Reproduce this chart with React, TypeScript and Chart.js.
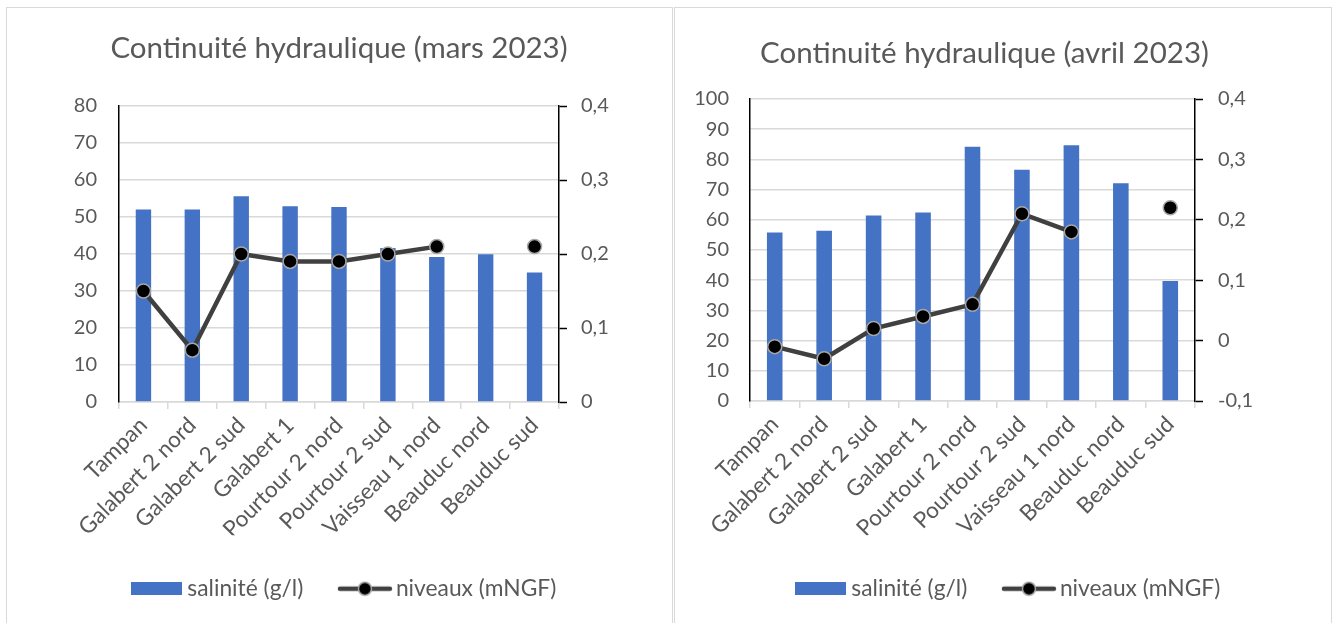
import React, { useEffect, useRef } from "react";
import { Chart, registerables } from "chart.js";

Chart.register(...registerables);

// ---------- data ----------
const categories = [
  "Tampan",
  "Galabert 2 nord",
  "Galabert 2 sud",
  "Galabert 1",
  "Pourtour 2 nord",
  "Pourtour 2 sud",
  "Vaisseau 1 nord",
  "Beauduc nord",
  "Beauduc sud",
];
const seriesNames = ["salinité (g/l)", "niveaux (mNGF)"];

const titleMars = "Continuité hydraulique (mars 2023)";
const salinityMars = [52, 52, 55.6, 52.9, 52.7, 41.6, 39.2, 39.9, 35];
const levelsMars: (number | null)[] = [0.15, 0.07, 0.2, 0.19, 0.19, 0.2, 0.21, null, 0.21];
const yRangeMars = [0, 80, 10];
const y2RangeMars = [0, 0.4, 0.1];

const titleAvril = "Continuité hydraulique (avril 2023)";
const salinityAvril = [55.8, 56.4, 61.4, 62.4, 84.2, 76.6, 84.7, 72.1, 39.7];
const levelsAvril: (number | null)[] = [-0.01, -0.03, 0.02, 0.04, 0.06, 0.21, 0.18, null, 0.22];
const yRangeAvril = [0, 100, 10];
const y2RangeAvril = [-0.1, 0.4, 0.1];

// ---------- styles ----------
const FONT = "Lato";
const TEXT = "#595959";
const GRID = "#d9d9d9";
const BLUE = "#4472C4";
const LINE = "#404040";
const TICK_SIZE = 20;
const CAT_SIZE = 22.5;
const LEGEND_SIZE = 22.8;
const TITLE_SIZE = 29.5;

const shiftPlugin = {
  id: "shiftBoxes",
  afterLayout(chart: any, _args: any, opts: any) {
    const t = opts && opts.title ? opts.title : 0;
    const l = opts && opts.legend ? opts.legend : 0;
    if (chart.titleBlock) {
      chart.titleBlock.left += t;
      chart.titleBlock.right += t;
    }
    if (chart.legend) {
      chart.legend.left += l;
      chart.legend.right += l;
    }
  },
};

function makeBarImg() {
  const c = document.createElement("canvas");
  c.width = 51;
  c.height = 13;
  const g = c.getContext("2d")!;
  g.fillStyle = BLUE;
  g.fillRect(0, 0, 51, 13);
  return c;
}

function makeLineImg() {
  const c = document.createElement("canvas");
  c.width = 56;
  c.height = 16;
  const g = c.getContext("2d")!;
  g.strokeStyle = LINE;
  g.lineWidth = 4.5;
  g.lineCap = "round";
  g.beginPath();
  g.moveTo(3, 8);
  g.lineTo(53, 8);
  g.stroke();
  g.beginPath();
  g.arc(28, 8, 6.5, 0, Math.PI * 2);
  g.fillStyle = "#000";
  g.fill();
  g.lineWidth = 1.5;
  g.strokeStyle = "#a6a6a6";
  g.stroke();
  return c;
}

type Spec = {
  title: string;
  salinity: number[];
  levels: (number | null)[];
  yRange: number[];
  y2Range: number[];
  yWidth: number;
  y2Width: number;
  yPad: number;
  y2Pad: number;
  titlePad: { top: number; bottom: number };
  xHeight: number;
  shiftTitle: number;
  shiftLegend: number;
};

function makeConfig(s: Spec, barImg: HTMLCanvasElement, lineImg: HTMLCanvasElement): any {
  const fmt = (v: any) => String(Math.round(Number(v) * 10) / 10).replace(".", ",");
  return {
    type: "bar",
    data: {
      labels: categories,
      datasets: [
        {
          type: "line",
          label: seriesNames[1],
          data: s.levels,
          yAxisID: "y2",
          borderColor: LINE,
          borderWidth: 4.5,
          pointRadius: 7,
          pointHoverRadius: 7,
          pointBackgroundColor: "#000",
          pointBorderColor: "#a6a6a6",
          pointBorderWidth: 1.5,
          spanGaps: false,
          tension: 0,
          order: 0,
        },
        {
          type: "bar",
          label: seriesNames[0],
          data: s.salinity,
          yAxisID: "y",
          backgroundColor: BLUE,
          barPercentage: 0.315,
          categoryPercentage: 1,
          order: 1,
        },
      ],
    },
    options: {
      responsive: false,
      animation: false,
      events: [],
      layout: { padding: { left: 0, right: 0, top: 0, bottom: 12.9 } },
      font: { family: FONT },
      scales: {
        x: {
          grid: {
            offset: true,
            drawOnChartArea: false,
            drawTicks: true,
            tickLength: 7,
            color: GRID,
            tickColor: GRID,
            lineWidth: 1.5,
          },
          border: { color: GRID, width: 1.5 },
          ticks: {
            autoSkip: false,
            minRotation: 45,
            maxRotation: 45,
            padding: 3,
            color: TEXT,
            font: { family: FONT, size: CAT_SIZE },
          },
          afterFit: (sc: any) => {
            sc.height = s.xHeight;
          },
        },
        y: {
          position: "left",
          min: s.yRange[0],
          max: s.yRange[1],
          grid: { color: GRID, lineWidth: 1.5, drawTicks: false },
          border: { color: "#000", width: 1.5 },
          ticks: {
            stepSize: s.yRange[2],
            padding: s.yPad,
            color: TEXT,
            font: { family: FONT, size: TICK_SIZE },
          },
          afterFit: (sc: any) => {
            sc.width = s.yWidth;
          },
        },
        y2: {
          position: "right",
          min: s.y2Range[0],
          max: s.y2Range[1],
          grid: {
            drawOnChartArea: false,
            drawTicks: true,
            tickLength: 8,
            tickColor: "#000",
            tickWidth: 1.5,
          },
          border: { color: "#000", width: 1.5 },
          ticks: {
            stepSize: s.y2Range[2],
            padding: s.y2Pad,
            color: TEXT,
            font: { family: FONT, size: TICK_SIZE },
            callback: fmt,
          },
          afterFit: (sc: any) => {
            sc.width = s.y2Width;
          },
        },
      },
      plugins: {
        tooltip: { enabled: false },
        shiftBoxes: { title: s.shiftTitle, legend: s.shiftLegend },
        title: {
          display: true,
          text: s.title,
          color: TEXT,
          font: { family: FONT, size: TITLE_SIZE, weight: "normal", lineHeight: 1.2 },
          padding: s.titlePad,
        },
        legend: {
          position: "bottom",
          labels: {
            usePointStyle: true,
            pointStyleWidth: 39.2,
            padding: 42,
            color: TEXT,
            font: { family: FONT, size: LEGEND_SIZE },
            generateLabels: (chart: any) => {
              const items = (Chart as any).defaults.plugins.legend.labels.generateLabels(chart);
              items.forEach((it: any) => {
                it.pointStyle = it.text === seriesNames[0] ? barImg : lineImg;
              });
              items.sort((a: any, b: any) => (a.text === seriesNames[0] ? -1 : b.text === seriesNames[0] ? 1 : 0));
              return items;
            },
          },
        },
      },
    },
    plugins: [shiftPlugin],
  };
}

const specMars: Spec = {
  title: titleMars,
  salinity: salinityMars,
  levels: levelsMars,
  yRange: yRangeMars,
  y2Range: y2RangeMars,
  yWidth: 112,
  y2Width: 112,
  yPad: 22,
  y2Pad: 14,
  titlePad: { top: 22.3, bottom: 40.3 },
  xHeight: 133.3,
  shiftTitle: 0,
  shiftLegend: 7.5,
};

const specAvril: Spec = {
  title: titleAvril,
  salinity: salinityAvril,
  levels: levelsAvril,
  yRange: yRangeAvril,
  y2Range: y2RangeAvril,
  yWidth: 74,
  y2Width: 135,
  yPad: 21,
  y2Pad: 15,
  titlePad: { top: 27.3, bottom: 28.3 },
  xHeight: 134.3,
  shiftTitle: -18.5,
  shiftLegend: 7.5,
};

function ChartCanvas(props: { spec: Spec; left: number; top: number; width: number; height: number }) {
  const ref = useRef<HTMLCanvasElement>(null);
  useEffect(() => {
    if (!ref.current) return;
    const chart = new Chart(ref.current, makeConfig(props.spec, makeBarImg(), makeLineImg()));
    return () => chart.destroy();
  }, []);
  return (
    <canvas
      ref={ref}
      width={props.width}
      height={props.height}
      style={{ position: "absolute", left: props.left, top: props.top, width: props.width, height: props.height }}
    />
  );
}

export default function App() {
  return (
    <div style={{ position: "fixed", left: 0, top: 0, width: 1333, height: 623, overflow: "hidden", background: "#fff" }}>
      <div
        style={{
          position: "absolute",
          left: 6,
          top: 7,
          width: 667,
          height: 640,
          boxSizing: "border-box",
          border: "1px solid " + GRID,
        }}
      />
      <div
        style={{
          position: "absolute",
          left: 674,
          top: 7,
          width: 658,
          height: 640,
          boxSizing: "border-box",
          border: "1px solid " + GRID,
        }}
      />
      <ChartCanvas spec={specMars} left={7} top={8} width={664} height={615} />
      <ChartCanvas spec={specAvril} left={676} top={8} width={654} height={615} />
    </div>
  );
}
